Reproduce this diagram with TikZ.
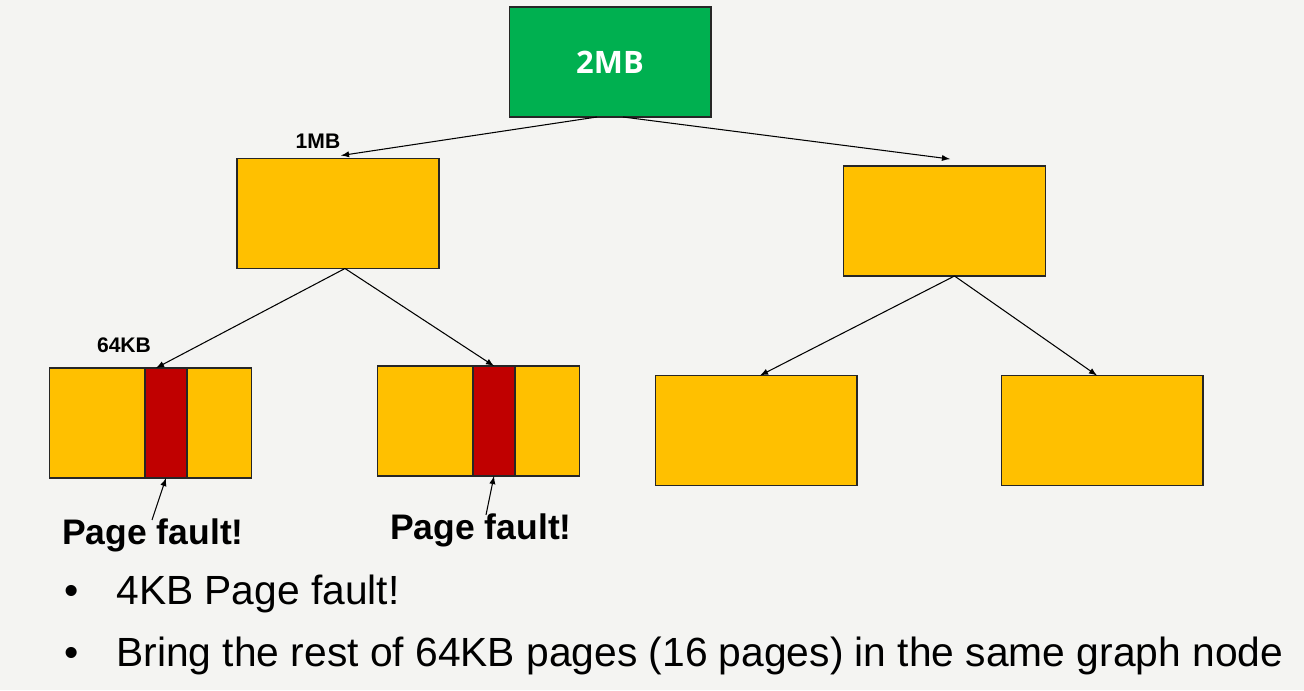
\documentclass[tikz,border=0pt]{standalone}
\usepackage{fontspec}
\setmainfont{Liberation Sans}
\newfontfamily\rootfont{Open Sans}
\usetikzlibrary{arrows,shapes,positioning}
\definecolor{nodegreen}{RGB}{0,176,80}
\definecolor{pageorange}{RGB}{255,192,0}
\definecolor{faultred}{RGB}{192,0,0}
\definecolor{slidebg}{RGB}{244,244,242}

\begin{document}
\begin{tikzpicture}[x=0.02cm, y=-0.02cm,
    block/.style={draw=black!85, line width=0.6pt, fill=pageorange, minimum width=4.04cm, minimum height=2.2cm, inner sep=0pt, outer sep=0pt},
    faultstrip/.style={draw=black!85, line width=0.6pt, fill=faultred, minimum width=0.84cm, minimum height=2.2cm, inner sep=0pt, outer sep=0pt},
    link/.style={-latex, black, line width=0.6pt},
    sizelabel/.style={font=\bfseries\fontsize{12}{14}\selectfont, inner sep=0pt},
    faultlabel/.style={font=\bfseries\fontsize{20.2}{22}\selectfont, inner sep=0pt},
    bullettext/.style={font=\fontsize{23.2}{26}\selectfont, inner sep=0pt}]

    % Slide background
    \fill[slidebg] (0,0) rectangle (1304,690);
    \useasboundingbox (0,0) rectangle (1304,690);

    % Graph nodes
    \node[block, fill=nodegreen, text=white, font=\rootfont\bfseries\fontsize{17.6}{19}\selectfont] (root) at (610,62) {2MB};
    \node[block] (left) at (338,213.5) {};
    \node[block] (right) at (944.5,221) {};
    \node[block] (ll) at (150.5,423) {};
    \node[block] (lr) at (478.5,421) {};
    \node[block] (rl) at (756,430.5) {};
    \node[block] (rr) at (1102,430.5) {};

    % 64KB pages that fault
    \node[faultstrip] (llf) at (166,423) {};
    \node[faultstrip] (lrf) at (494,421) {};

    % Size labels
    \node[sizelabel] (mb) at (318,141) {1MB};
    \node[sizelabel] (kb) at (124,345) {64KB};

    % Edges
    \draw[link] ([xshift=-0.26cm]root.south) -- ([xshift=0.06cm,yshift=0.06cm]left.north);
    \draw[link] ([xshift=0.26cm]root.south) -- ([xshift=0.11cm,yshift=0.14cm]right.north);
    \draw[link] ([xshift=0.14cm]left.south) -- ([xshift=-0.2cm]llf.north);
    \draw[link] ([xshift=0.14cm]left.south) -- (lrf.north);
    \draw[link] ([xshift=0.2cm]right.south) -- ([xshift=0.08cm]rl.north);
    \draw[link] ([xshift=0.2cm]right.south) -- ([xshift=-0.1cm]rr.north);

    % Page faults
    \node[faultlabel, anchor=base] (pf1) at (153,544) {Page fault!};
    \node[faultlabel, anchor=base] (pf2) at (481,539) {Page fault!};
    \draw[link] ([xshift=-0.02cm,yshift=-0.04cm]pf1.north) -- (llf.south);
    \draw[link] ([xshift=0.1cm,yshift=-0.04cm]pf2.north) -- (lrf.south);

    % Bullets
    \node[bullettext, anchor=base] (dot1) at (72,604) {•};
    \node[bullettext, anchor=base west] (line1) at (116,604) {4KB Page fault!};
    \node[bullettext, anchor=base] (dot2) at (72,666) {•};
    \node[bullettext, anchor=base west] (line2) at (116,666) {Bring the rest of 64KB pages (16 pages) in the same graph node};
\end{tikzpicture}
\end{document}
